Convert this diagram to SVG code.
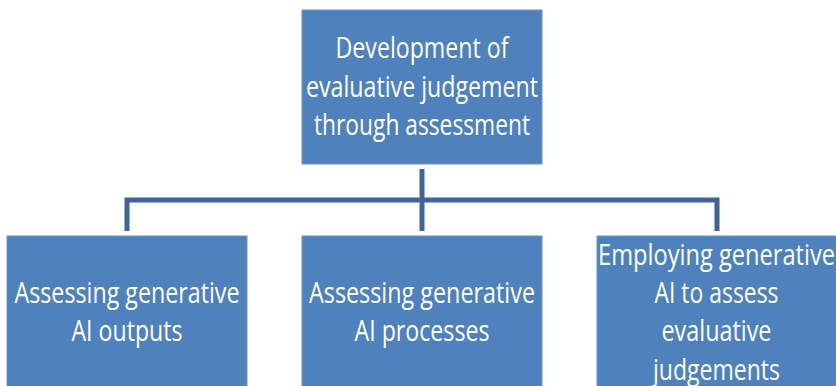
<svg xmlns="http://www.w3.org/2000/svg" width="836" height="386" viewBox="0 0 836 386">
<style>
.box{fill:#4f81bd;stroke:#6a95c8;stroke-width:1}
.t{fill:#ffffff;font-family:"Open Sans","Noto Sans",sans-serif;font-size:29px;text-anchor:middle}
.c{fill:none;stroke:#3f6596;stroke-width:5}
</style>
<rect width="836" height="386" fill="#ffffff"/>
<g id="connectors">
<line class="c" x1="422" y1="169" x2="422" y2="231"/>
<polyline class="c" points="127,231 127,200 717,200 717,231"/>
</g>
<g id="root">
<rect class="box" x="302" y="10" width="240" height="154"/>
<text class="t" x="422" y="58" textLength="173" lengthAdjust="spacingAndGlyphs">Development of</text>
<text class="t" x="422" y="97" textLength="232" lengthAdjust="spacingAndGlyphs">evaluative judgement</text>
<text class="t" x="422" y="135" textLength="216" lengthAdjust="spacingAndGlyphs">through assessment</text>
</g>
<g id="outputs">
<rect class="box" x="7" y="236" width="240" height="160"/>
<text class="t" x="127" y="303" textLength="225" lengthAdjust="spacingAndGlyphs">Assessing generative</text>
<text class="t" x="127" y="341" textLength="111" lengthAdjust="spacingAndGlyphs">AI outputs</text>
</g>
<g id="processes">
<rect class="box" x="302" y="236" width="240" height="160"/>
<text class="t" x="422" y="303" textLength="226" lengthAdjust="spacingAndGlyphs">Assessing generative</text>
<text class="t" x="422" y="341" textLength="135" lengthAdjust="spacingAndGlyphs">AI processes</text>
</g>
<g id="employing">
<rect class="box" x="597" y="236" width="240" height="160"/>
<text class="t" x="716.5" y="265" textLength="237" lengthAdjust="spacingAndGlyphs">Employing generative</text>
<text class="t" x="716.5" y="303" textLength="124" lengthAdjust="spacingAndGlyphs">AI to assess</text>
<text class="t" x="716.5" y="341" textLength="110" lengthAdjust="spacingAndGlyphs">evaluative</text>
<text class="t" x="716.5" y="380" textLength="127" lengthAdjust="spacingAndGlyphs">judgements</text>
</g>
</svg>
